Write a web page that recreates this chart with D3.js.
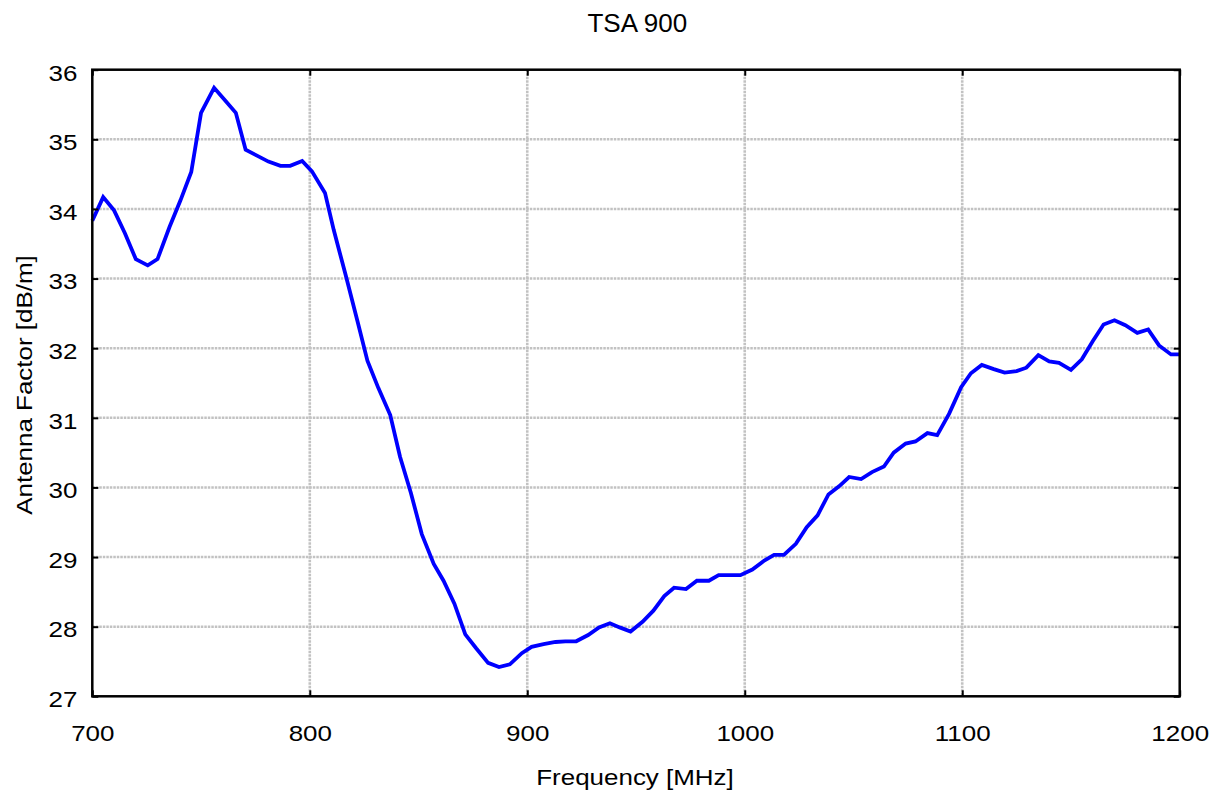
<!DOCTYPE html>
<html>
<head>
<meta charset="utf-8">
<script src="https://cdn.jsdelivr.net/npm/d3@7"></script>
<style>
  html, body { margin: 0; padding: 0; background: #fff; }
  svg { display: block; }
  text { font-family: "Liberation Sans", Arial, sans-serif; fill: #000; }
</style>
</head>
<body>
<svg id="chart" width="1218" height="796"></svg>
<script>
const titleText = "TSA 900";
const xLabel = "Frequency [MHz]";
const yLabel = "Antenna Factor [dB/m]";

const xTicks = [700, 800, 900, 1000, 1100, 1200];
const yTicks = [27, 28, 29, 30, 31, 32, 33, 34, 35, 36];

const freq = [
  700, 705, 710, 715, 720, 725.5, 730, 735.5, 740.5, 745.5,
  750, 756, 761, 766, 770.5, 775.5, 781, 786.5, 791, 796.5,
  801, 807, 811, 816.5, 822, 826.5, 831.5, 837, 841.5, 846.5,
  851.5, 857, 861.5, 866.5, 871.5, 876.5, 882, 887, 892, 897.5,
  902, 907.5, 913, 917.5, 922.5, 928, 933, 938, 942.5, 947.5,
  953, 958, 963, 967.5, 973, 978, 983.5, 988, 993, 998,
  1003.5, 1009, 1013.5, 1018, 1023.5, 1028.5, 1033.5, 1038.5, 1043.5, 1048,
  1053.5, 1058.5, 1064, 1068.5, 1074, 1078.5, 1084, 1088.5, 1094, 1099.5,
  1104, 1109, 1114.5, 1119.5, 1125, 1129.5, 1135, 1140, 1144.5, 1150,
  1155, 1160, 1165, 1170, 1175, 1180.5, 1185.5, 1190.5, 1196, 1200
];
const antennaFactor = [
  33.83, 34.17, 33.98, 33.65, 33.28, 33.19, 33.28, 33.74, 34.12, 34.53,
  35.38, 35.74, 35.56, 35.38, 34.85, 34.77, 34.68, 34.62, 34.62, 34.69,
  34.54, 34.23, 33.70, 33.05, 32.38, 31.82, 31.43, 31.04, 30.44, 29.92,
  29.33, 28.90, 28.66, 28.33, 27.89, 27.69, 27.48, 27.42, 27.46, 27.62,
  27.71, 27.75, 27.78, 27.79, 27.79, 27.88, 27.99, 28.05, 27.99, 27.93,
  28.07, 28.23, 28.44, 28.56, 28.54, 28.66, 28.66, 28.74, 28.74, 28.74,
  28.82, 28.95, 29.03, 29.03, 29.19, 29.43, 29.60, 29.90, 30.02, 30.15,
  30.12, 30.22, 30.30, 30.50, 30.63, 30.66, 30.78, 30.75, 31.06, 31.44,
  31.64, 31.76, 31.70, 31.65, 31.67, 31.72, 31.90, 31.81, 31.79, 31.69,
  31.84, 32.10, 32.34, 32.40, 32.33, 32.22, 32.27, 32.04, 31.91, 31.91
];

const W = 1218, H = 796;
const pLeft = 92.3, pRight = 1179.7, pTop = 69.7, pBottom = 696.3;
const sx = 1.18; // horizontal widening of the label glyphs

const svg = d3.select("#chart");
const x = d3.scaleLinear().domain([700, 1200]).range([pLeft, pRight]);
const y = d3.scaleLinear().domain([27, 36]).range([pBottom, pTop]);

// grid
const grid = svg.append("g").attr("stroke", "#c2c2c2").attr("stroke-width", 2.6)
  .attr("stroke-dasharray", "2.5,1");
grid.selectAll("line.v").data(xTicks.slice(1, -1)).join("line").attr("class", "v")
  .attr("x1", d => x(d)).attr("x2", d => x(d)).attr("y1", pTop).attr("y2", pBottom);
grid.selectAll("line.h").data(yTicks.slice(1, -1)).join("line").attr("class", "h")
  .attr("x1", pLeft).attr("x2", pRight).attr("y1", d => y(d)).attr("y2", d => y(d));

// data line
const pts = freq.map((f, i) => [f, antennaFactor[i]]);
svg.append("path").datum(pts)
  .attr("fill", "none").attr("stroke", "#0000ff").attr("stroke-width", 3.8)
  .attr("stroke-linejoin", "miter")
  .attr("d", d3.line().x(d => x(d[0])).y(d => y(d[1])));

// axes with inward ticks
function styleAxis(g) {
  g.select(".domain").remove();
  g.selectAll(".tick line").attr("stroke", "#000").attr("stroke-width", 2);
}
const xb = svg.append("g").attr("transform", `translate(0,${pBottom})`)
  .call(d3.axisBottom(x).tickValues(xTicks).tickSizeInner(-6).tickSizeOuter(0).tickFormat(d3.format("d")));
styleAxis(xb);
xb.selectAll(".tick text").attr("y", 44.4).attr("dy", 0)
  .attr("font-size", 22).attr("font-family", "Liberation Sans, Arial, sans-serif")
  .attr("fill", "#000")
  .attr("transform", `scale(${sx},1)`);

const xt = svg.append("g").attr("transform", `translate(0,${pTop})`)
  .call(d3.axisTop(x).tickValues(xTicks).tickSizeInner(-6).tickSizeOuter(0).tickFormat(""));
styleAxis(xt);

const yl = svg.append("g").attr("transform", `translate(${pLeft},0)`)
  .call(d3.axisLeft(y).tickValues(yTicks).tickSizeInner(-6).tickSizeOuter(0).tickFormat(d3.format("d")));
styleAxis(yl);
yl.selectAll(".tick text").attr("x", -15 / sx).attr("y", 10.3).attr("dy", 0)
  .attr("font-size", 22).attr("font-family", "Liberation Sans, Arial, sans-serif")
  .attr("fill", "#000")
  .attr("transform", `scale(${sx},1)`);

const yr = svg.append("g").attr("transform", `translate(${pRight},0)`)
  .call(d3.axisRight(y).tickValues(yTicks).tickSizeInner(-6).tickSizeOuter(0).tickFormat(""));
styleAxis(yr);

// frame
svg.append("rect").attr("x", pLeft).attr("y", pTop)
  .attr("width", pRight - pLeft).attr("height", pBottom - pTop)
  .attr("fill", "none").attr("stroke", "#000").attr("stroke-width", 2.5);

// titles
svg.append("text").attr("x", 637.3).attr("y", 31.7).attr("text-anchor", "middle")
  .attr("font-size", 26).text(titleText);

svg.append("text").attr("transform", `translate(635,785) scale(${sx},1)`)
  .attr("text-anchor", "middle").attr("font-size", 22).text(xLabel);

svg.append("text").attr("transform", `translate(31.7,385) rotate(-90) scale(${sx},1)`)
  .attr("text-anchor", "middle").attr("font-size", 22).text(yLabel);
</script>
</body>
</html>
